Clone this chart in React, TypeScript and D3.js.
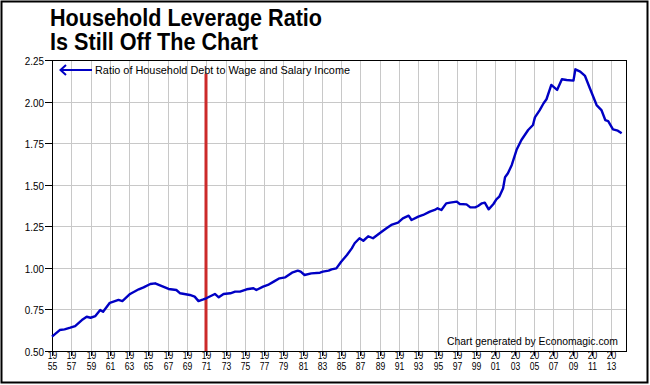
import React from 'react';
import * as d3 from 'd3';

// (year fraction, ratio)
const years = [
  1955.0, 1955.8, 1956.3, 1956.9, 1957.4, 1958.1, 1958.6, 1959.0, 1959.5, 1960.0,
  1960.3, 1961.0, 1961.9, 1962.3, 1963.1, 1964.0, 1964.5, 1965.2, 1965.7, 1966.4,
  1967.1, 1967.9, 1968.3, 1969.3, 1969.8, 1970.2, 1970.7, 1971.0, 1971.9, 1972.3,
  1972.8, 1973.5, 1974.0, 1974.5, 1975.2, 1975.9, 1976.2, 1976.9, 1977.4, 1978.0,
  1978.6, 1979.2, 1979.9, 1980.5, 1980.8, 1981.2, 1981.9, 1982.8, 1983.1, 1983.7,
  1984.0, 1984.5, 1985.0, 1985.6, 1986.1, 1986.4, 1986.9, 1987.3, 1987.8, 1988.3,
  1989.2, 1989.7, 1990.2, 1990.9, 1991.4, 1992.0, 1992.3, 1993.0, 1993.5, 1994.2,
  1994.7, 1995.0, 1995.4, 1995.9, 1996.3, 1997.0, 1997.3, 1998.0, 1998.4, 1998.9,
  1999.2, 1999.6, 1999.9, 2000.3, 2000.8, 2001.1, 2001.4, 2001.8, 2002.0, 2002.3,
  2002.7, 2003.2, 2003.7, 2004.4, 2004.9, 2005.1, 2005.6, 2006.0, 2006.3, 2006.8,
  2007.4, 2007.9, 2008.4, 2009.1, 2009.3, 2009.8, 2010.3, 2010.8, 2011.5, 2012.0,
  2012.4, 2012.7, 2013.2, 2013.7, 2014.1,
];
const ratio = [
  0.586, 0.626, 0.630, 0.640, 0.650, 0.686, 0.706, 0.700, 0.710, 0.746,
  0.736, 0.790, 0.807, 0.800, 0.843, 0.871, 0.883, 0.903, 0.907, 0.890,
  0.873, 0.867, 0.847, 0.837, 0.827, 0.800, 0.810, 0.817, 0.843, 0.823,
  0.843, 0.847, 0.857, 0.857, 0.871, 0.877, 0.867, 0.887, 0.897, 0.917,
  0.937, 0.943, 0.971, 0.983, 0.977, 0.957, 0.967, 0.971, 0.977, 0.983,
  0.991, 0.997, 1.037, 1.077, 1.117, 1.148, 1.178, 1.163, 1.190, 1.178,
  1.217, 1.238, 1.258, 1.272, 1.298, 1.314, 1.288, 1.308, 1.318, 1.338,
  1.348, 1.358, 1.348, 1.388, 1.392, 1.398, 1.384, 1.382, 1.364, 1.364,
  1.372, 1.388, 1.392, 1.352, 1.384, 1.412, 1.428, 1.479, 1.545, 1.569,
  1.619, 1.710, 1.769, 1.829, 1.859, 1.905, 1.949, 1.990, 2.014, 2.100,
  2.070, 2.134, 2.130, 2.126, 2.194, 2.180, 2.154, 2.080, 1.979, 1.949,
  1.889, 1.883, 1.833, 1.825, 1.809,
];

const yTicks = [0.5, 0.75, 1.0, 1.25, 1.5, 1.75, 2.0, 2.25];
const xTicks = [
  1955, 1957, 1959, 1961, 1963, 1965, 1967, 1969, 1971, 1973, 1975, 1977, 1979, 1981, 1983,
  1985, 1987, 1989, 1991, 1993, 1995, 1997, 1999, 2001, 2003, 2005, 2007, 2009, 2011, 2013,
];
const markerYear = 1971;

const titleLines = ['Household Leverage Ratio', 'Is Still Off The Chart'];
const seriesName = 'Ratio of Household Debt to Wage and Salary Income';
const credit = 'Chart generated by Economagic.com';

const FONT = 'Liberation Sans, Arial, Helvetica, sans-serif';
const SX = 0.86; // the original is a bit squeezed sideways

const App = () => {
  const W = 650, H = 385;
  const left = 52, right = 626, top = 60, bottom = 351;

  const x = d3.scaleLinear().domain([1955, 2014.55]).range([left, right]);
  const y = d3.scaleLinear().domain([0.5, 2.25]).range([bottom, top]);

  const pts = years.map((yr, i) => [yr, ratio[i]] as [number, number]);
  const path = d3.line<[number, number]>()
    .x(d => x(d[0]))
    .y(d => y(d[1]))(pts) || '';

  const mx = Math.round(x(markerYear));

  return (
    <svg width={W} height={H} style={{ position: 'absolute', left: 0, top: 0, background: '#fff' }}
      fontFamily={FONT}>
      <rect x={0} y={0} width={W} height={H} fill="#fff" />
      <rect x={1.5} y={1.5} width={646} height={381} fill="none" stroke="#000" strokeWidth={2} />

      {/* title */}
      <text x={50} y={25.5} fontSize={23} fontWeight="bold" textLength={272} lengthAdjust="spacingAndGlyphs">{titleLines[0]}</text>
      <text x={50} y={50} fontSize={23} fontWeight="bold" textLength={208} lengthAdjust="spacingAndGlyphs">{titleLines[1]}</text>

      {/* grid */}
      {yTicks.slice(1, -1).map(t => (
        <line key={'gy' + t} x1={left} x2={right} y1={Math.round(y(t)) + 0.5} y2={Math.round(y(t)) + 0.5}
          stroke="#c8c8c8" strokeWidth={1} />
      ))}
      {xTicks.slice(1).map(t => (
        <line key={'gx' + t} x1={Math.round(x(t)) + 0.5} x2={Math.round(x(t)) + 0.5} y1={top} y2={bottom}
          stroke="#c8c8c8" strokeWidth={1} />
      ))}

      {/* frame */}
      <rect x={left + 0.5} y={top + 0.5} width={right - left} height={bottom - top} fill="none" stroke="#000" strokeWidth={1} />

      {/* y axis */}
      {yTicks.map(t => {
        const yy = Math.round(y(t)) + 0.5;
        return (
          <g key={'ty' + t}>
            <line x1={45} x2={left} y1={yy} y2={yy} stroke="#000" />
            <text transform={`translate(44,${yy + 4}) scale(${SX},1)`} textAnchor="end" fontSize={11.5}>
              {t.toFixed(2)}
            </text>
          </g>
        );
      })}

      {/* x axis: century on top, year below */}
      {xTicks.map(t => {
        const xx = Math.round(x(t)) + 0.5;
        const s = String(t);
        return (
          <g key={'tx' + t}>
            <line x1={xx} x2={xx} y1={bottom} y2={bottom + 5} stroke="#000" />
            <text transform={`translate(${xx},359) scale(${SX},1)`} textAnchor="middle" fontSize={10}>
              <tspan x={0} y={0}>{s.slice(0, 2)}</tspan>
              <tspan x={0} y={11.5}>{s.slice(2)}</tspan>
            </text>
          </g>
        );
      })}

      {/* marker */}
      <line x1={mx} x2={mx} y1={74} y2={bottom} stroke="#cc2a2a" strokeWidth={3} />

      {/* series */}
      <path d={path} fill="none" stroke="#0000c4" strokeWidth={2.4} strokeLinejoin="round" />

      {/* legend */}
      <line x1={61} x2={92} y1={70} y2={70} stroke="#0000c4" strokeWidth={2} />
      <polyline points="66,65 60.5,70 66,75" fill="none" stroke="#0000c4" strokeWidth={2} />
      <text x={95} y={74} fontSize={11.5} textLength={255} lengthAdjust="spacingAndGlyphs">{seriesName}</text>

      <text x={447} y={345} fontSize={11.5} textLength={171} lengthAdjust="spacingAndGlyphs">{credit}</text>
    </svg>
  );
};

export default App;
